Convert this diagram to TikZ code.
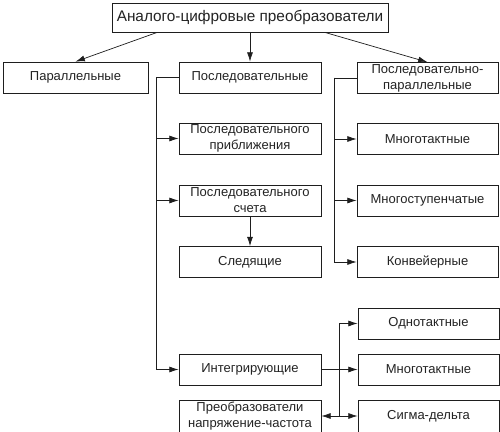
\documentclass[tikz,border=0pt]{standalone}
\usepackage{fontspec}
\setmainfont{Liberation Sans}
\usepackage{tikz}
\usetikzlibrary{arrows.meta,positioning,calc}
\definecolor{adcline}{RGB}{30,30,30}
\definecolor{adctext}{RGB}{35,35,35}

\begin{document}
\begin{tikzpicture}[
x=0.03cm, y=-0.03cm,
adcbox/.style={draw=adcline, line width=0.6pt, fill=white, minimum height=0.93cm,
minimum width=4.26cm, align=center, text=adctext, inner sep=1pt,
font=\fontsize{11.1}{13.8}\selectfont},
arrow/.style={-{Latex[length=2.8mm,width=1.8mm]}, line width=0.6pt, draw=adcline},
link/.style={line width=0.6pt, draw=adcline}
]
\useasboundingbox (0,0) rectangle (500,432);

\node[adcbox, minimum width=8.28cm, minimum height=0.87cm,
font=\fontsize{13.1}{15}\selectfont] (adc) at (250,17.5) {Аналого-цифровые преобразователи};

\node[adcbox, minimum width=4.35cm] (par) at (75.5,77.5) {Параллельные};
\node[adcbox] (seq) at (250,77.5) {Последовательные};
\node[adcbox, minimum width=4.23cm] (sp) at (427.5,78) {Последовательно-\\параллельные};

\node[adcbox] (sa) at (250,138.5) {Последовательного\\приближения};
\node[adcbox] (sc) at (250,200.5) {Последовательного\\счета};
\node[adcbox] (track) at (250,262) {Следящие};
\node[adcbox] (integ) at (250,369.5) {Интегрирующие};
\node[adcbox, minimum height=0.96cm] (vf) at (250,416) {Преобразователи\\напряжение-частота};

\node[adcbox, minimum width=4.23cm] (mt1) at (427.5,139) {Многотактные};
\node[adcbox, minimum width=4.23cm] (ms) at (427.5,200.5) {Многоступенчатые};
\node[adcbox, minimum width=4.23cm] (conv) at (427.5,262) {Конвейерные};
\node[adcbox, minimum width=4.23cm] (one) at (428.5,323.5) {Однотактные};
\node[adcbox, minimum width=4.23cm] (mt2) at (428.5,369.5) {Многотактные};
\node[adcbox, minimum width=4.23cm, minimum height=0.96cm] (sd) at (428.5,416) {Сигма-дельта};

% top level
\draw[arrow] ($(adc.south)!0.67!(adc.south west)$) -- (par.north);
\draw[arrow] (adc.south) -- (seq.north);
\draw[arrow] ($(adc.south)!0.54!(adc.south east)$) -- (sp.north);

% sequential branch
\coordinate (lbus) at ($(seq.west)+(-22,0)$);
\draw[link] (seq.west) -- (lbus);
\draw[arrow] (lbus) |- (sa.west);
\draw[arrow] (lbus) |- (sc.west);
\draw[arrow] (lbus) |- (integ.west);
\draw[arrow] (sc.south) -- (track.north);

% series-parallel branch
\coordinate (rbus) at ($(sp.west)+(-22,0)$);
\draw[link] (sp.west) -- (rbus);
\draw[arrow] (rbus) |- (mt1.west);
\draw[arrow] (rbus) |- (ms.west);
\draw[arrow] (rbus) |- (conv.west);

% integrating branch
\coordinate (ibus) at ($(integ.east)+(18,0)$);
\draw[arrow] (integ.east) -- (mt2.west);
\draw[arrow] (ibus) |- (one.west);
\draw[arrow] (ibus) |- (sd.west);
\draw[arrow] (ibus |- sd.west) -- (vf.east);

\end{tikzpicture}
\end{document}
